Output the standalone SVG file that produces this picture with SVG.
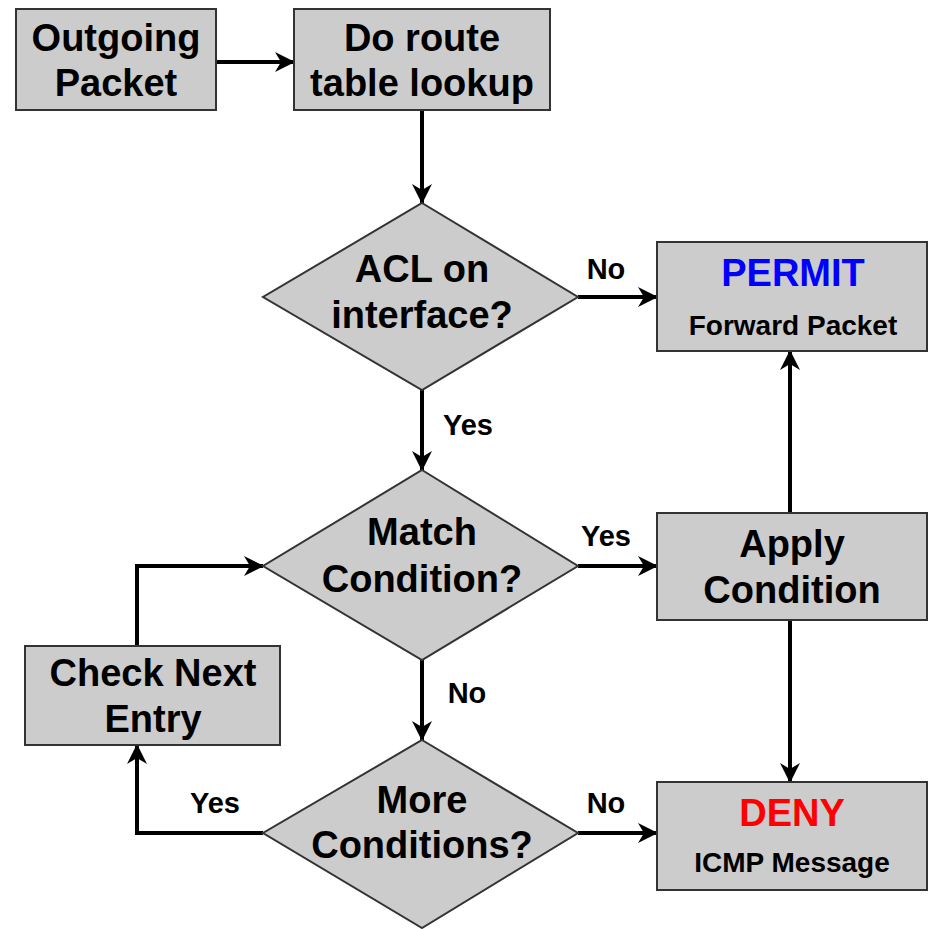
<svg xmlns="http://www.w3.org/2000/svg" width="929" height="929" viewBox="0 0 929 929">
<defs>
<marker id="arr" viewBox="0 0 20 20" refX="19" refY="10" markerWidth="20" markerHeight="20" markerUnits="userSpaceOnUse" orient="auto">
<path d="M0,0 L20,10 L0,20 L6,10 z" fill="#000"/>
</marker>
<style>
.n{fill:#cccccc;stroke:#333;stroke-width:2}
.t{font-family:"Liberation Sans",Arial,sans-serif;font-weight:bold;font-size:38px;text-anchor:middle;fill:#000}
.s{font-family:"Liberation Sans",Arial,sans-serif;font-weight:bold;font-size:28px;text-anchor:middle;fill:#000}
.l{font-family:"Liberation Sans",Arial,sans-serif;font-weight:bold;font-size:29px;text-anchor:middle;fill:#000}
.c{fill:none;stroke:#000;stroke-width:4;marker-end:url(#arr)}
</style>
</defs>
<rect width="929" height="929" fill="#fff"/>
<g id="connectors">
<path class="c" d="M216,62 H294"/>
<path class="c" d="M422,110 V203"/>
<path class="c" d="M578,297 H657"/>
<path class="c" d="M422,390 V470"/>
<path class="c" d="M578,566 H657"/>
<path class="c" d="M790,513 V351"/>
<path class="c" d="M790,620 V782"/>
<path class="c" d="M422,660 V740"/>
<path class="c" d="M578,833 H657"/>
<path class="c" d="M263,833 H137 V745"/>
<path class="c" d="M137,646 V566 H263"/>
<text class="l" x="606" y="279">No</text>
<text class="l" x="468" y="435">Yes</text>
<text class="l" x="606" y="546">Yes</text>
<text class="l" x="467" y="703">No</text>
<text class="l" x="606" y="813">No</text>
<text class="l" x="215" y="813">Yes</text>
</g>
<g id="outgoing">
<rect class="n" x="16" y="9" width="200" height="101"/>
<text class="t" x="116" y="51">Outgoing</text>
<text class="t" x="116" y="96">Packet</text>
</g>
<g id="lookup">
<rect class="n" x="294" y="9" width="256" height="101"/>
<text class="t" x="422" y="51">Do route</text>
<text class="t" x="422" y="96">table lookup</text>
</g>
<g id="acl">
<polygon class="n" points="422,203 578,297 422,390 263,297"/>
<text class="t" x="422" y="282">ACL on</text>
<text class="t" x="422" y="328">interface?</text>
</g>
<g id="permit">
<rect class="n" x="657" y="242" width="270" height="109"/>
<text class="t" x="793" y="286" style="fill:#0000ff">PERMIT</text>
<text class="s" x="793" y="335">Forward Packet</text>
</g>
<g id="match">
<polygon class="n" points="422,470 578,566 422,660 263,566"/>
<text class="t" x="422" y="545">Match</text>
<text class="t" x="422" y="592">Condition?</text>
</g>
<g id="apply">
<rect class="n" x="657" y="513" width="270" height="107"/>
<text class="t" x="792" y="557">Apply</text>
<text class="t" x="792" y="603">Condition</text>
</g>
<g id="checknext">
<rect class="n" x="25" y="646" width="255" height="99"/>
<text class="t" x="153" y="686">Check Next</text>
<text class="t" x="153" y="732">Entry</text>
</g>
<g id="more">
<polygon class="n" points="422,740 578,833 422,928 263,833"/>
<text class="t" x="422" y="813">More</text>
<text class="t" x="422" y="858">Conditions?</text>
</g>
<g id="deny">
<rect class="n" x="657" y="782" width="270" height="108"/>
<text class="t" x="792" y="826" style="fill:#ff0000">DENY</text>
<text class="s" x="792" y="872">ICMP Message</text>
</g>
</svg>
